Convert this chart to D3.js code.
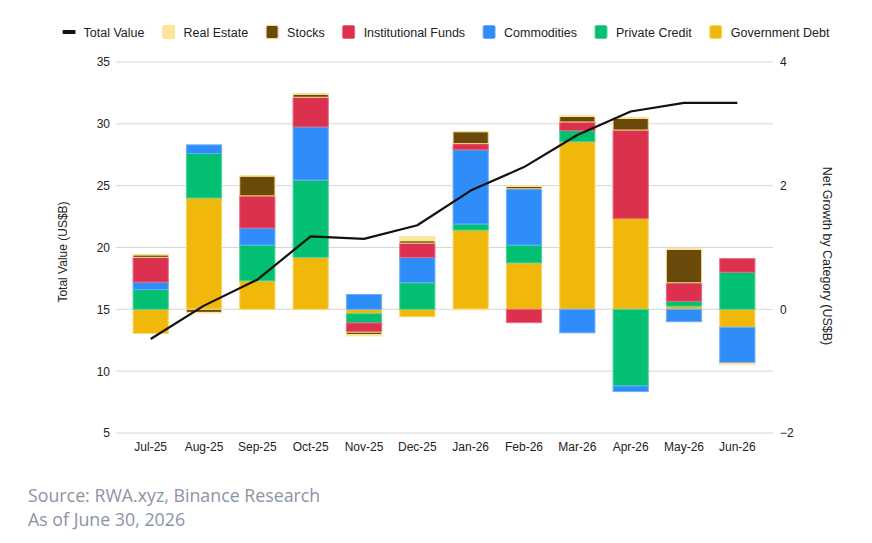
<!DOCTYPE html>
<html>
<head>
<meta charset="utf-8">
<script src="https://cdn.jsdelivr.net/npm/d3@7"></script>
<style>
  body { margin: 0; background: #fff; }
  text { font-family: "Liberation Sans", Arial, sans-serif; }
</style>
</head>
<body>
<div id="chart"></div>
<script>
// months on the x axis
var months = ["Jul-25","Aug-25","Sep-25","Oct-25","Nov-25","Dec-25","Jan-26","Feb-26","Mar-26","Apr-26","May-26","Jun-26"];

// total value, left axis (US$B)
var totalValue = [12.6, 15.3, 17.4, 20.9, 20.7, 21.8, 24.6, 26.5, 29.1, 31.0, 31.7, 31.7];

// net growth by category, right axis (US$B)
var govDebt       = [-0.39, 1.80, 0.46, 0.84, -0.07, -0.12, 1.28, 0.75, 2.71, 1.47, 0.05, -0.29];
var privateCredit = [0.32, 0.72, 0.58, 1.25, -0.15, 0.43, 0.10, 0.29, 0.18, -1.24, 0.08, 0.60];
var commodities   = [0.12, 0.14, 0.275, 0.86, 0.24, 0.41, 1.20, 0.91, -0.38, -0.09, -0.20, -0.58];
var instFunds     = [0.40, 0, 0.52, 0.48, -0.15, 0.23, 0.10, -0.215, 0.14, 1.43, 0.30, 0.22];
var stocks        = [0.04, -0.05, 0.32, 0.05, -0.04, 0.04, 0.19, 0.04, 0.09, 0.19, 0.54, 0];
var realEstate    = [0.01, -0.01, 0.01, 0.01, -0.02, 0.065, -0.01, 0.01, 0.01, 0.01, 0.01, -0.02];

var leftTicks = [5, 10, 15, 20, 25, 30, 35];
var rightTicks = [-2, 0, 2, 4];

var keys = ["Government Debt", "Private Credit", "Commodities", "Institutional Funds", "Stocks", "Real Estate"];
var series = [govDebt, privateCredit, commodities, instFunds, stocks, realEstate];
var colors = ["#f1b80c", "#02bf72", "#2f8dfa", "#db304e", "#6a4a0b", "#fbe59d"];
var strokes = ["#f9d86a", "#4fd69c", "#6aaefc", "#e8687d", "#f4d98a", "#fbe59d"];

var legendKeys = ["Total Value", "Real Estate", "Stocks", "Institutional Funds", "Commodities", "Private Credit", "Government Debt"];

var width = 872, height = 543;

var svg = d3.select("#chart")
  .append("svg")
    .attr("width", width)
    .attr("height", height);

var rows = months.map(function(m, i) {
  var r = {month: m};
  keys.forEach(function(k, j) { r[k] = series[j][i]; });
  return r;
});

var x = d3.scaleBand()
  .domain(months)
  .range([124, 764])
  .paddingInner(0.34)
  .paddingOuter(0.17);

var yLeft = d3.scaleLinear()
  .domain([5, 35])
  .range([433, 62]);

var yRight = d3.scaleLinear()
  .domain([-2, 4])
  .range([433, 62]);

// gridlines
svg.append("g")
  .selectAll("line")
  .data(leftTicks)
  .enter().append("line")
    .attr("x1", 116)
    .attr("x2", 773)
    .attr("y1", function(d) { return yLeft(d) })
    .attr("y2", function(d) { return yLeft(d) })
    .attr("stroke", "#d6d6d6")
    .attr("stroke-width", 1);

// left axis
var axL = svg.append("g")
  .attr("transform", "translate(116,0)")
  .call(d3.axisLeft(yLeft).tickValues(leftTicks).tickSize(0).tickPadding(6));
axL.select(".domain").remove();
axL.selectAll("text").attr("font-size", 12).attr("fill", "#222");

// right axis
var axR = svg.append("g")
  .attr("transform", "translate(773,0)")
  .call(d3.axisRight(yRight).tickValues(rightTicks).tickSize(0).tickPadding(7).tickFormat(d3.format("d")));
axR.select(".domain").remove();
axR.selectAll("text").attr("font-size", 12).attr("fill", "#222");

// x axis
var axX = svg.append("g")
  .attr("transform", "translate(0,433)")
  .call(d3.axisBottom(x).tickSize(0).tickPadding(9));
axX.select(".domain").remove();
axX.selectAll("text").attr("font-size", 12).attr("fill", "#222");

// axis titles
svg.append("text")
  .attr("transform", "translate(67,252) rotate(-90)")
  .attr("text-anchor", "middle")
  .attr("font-size", 12)
  .attr("fill", "#222")
  .text("Total Value (US$B)");

svg.append("text")
  .attr("transform", "translate(823,256) rotate(90)")
  .attr("text-anchor", "middle")
  .attr("font-size", 12.5)
  .attr("fill", "#222")
  .text("Net Growth by Category (US$B)");

// stacked bars
var stacked = d3.stack()
  .keys(keys)
  .offset(d3.stackOffsetDiverging)(rows);

svg.append("g")
  .selectAll("g")
  .data(stacked)
  .enter().append("g")
    .attr("fill", function(d, i) { return colors[i] })
    .attr("stroke", function(d, i) { return strokes[i] })
    .attr("stroke-width", 1)
  .selectAll("rect")
  .data(function(d) { return d.filter(function(p) { return p[1] !== p[0] }) })
  .enter().append("rect")
    .attr("x", function(d) { return x(d.data.month) })
    .attr("width", x.bandwidth())
    .attr("y", function(d) { return yRight(Math.max(d[0], d[1])) })
    .attr("height", function(d) { return Math.abs(yRight(d[0]) - yRight(d[1])) });

// total value line
svg.append("path")
  .datum(totalValue)
  .attr("fill", "none")
  .attr("stroke", "#111")
  .attr("stroke-width", 2.2)
  .attr("stroke-linejoin", "round")
  .attr("d", d3.line()
    .x(function(d, i) { return x(months[i]) + x.bandwidth() / 2 })
    .y(function(d) { return yLeft(d) })
  );

// legend
var legend = svg.append("g");
var lx = 0;
legendKeys.forEach(function(k, i) {
  var g = legend.append("g").attr("transform", "translate(" + lx + ",0)");
  if (i === 0) {
    g.append("rect")
      .attr("x", 0).attr("y", 30).attr("width", 13).attr("height", 4)
      .attr("rx", 1)
      .attr("fill", "#111");
  } else {
    var j = keys.indexOf(k);
    g.append("rect")
      .attr("x", 0).attr("y", 25.5).attr("width", 12).attr("height", 13)
      .attr("rx", 1.5)
      .attr("fill", colors[j])
      .attr("stroke", strokes[j])
      .attr("stroke-width", 1);
  }
  var t = g.append("text")
    .attr("x", 21)
    .attr("y", 36.5)
    .attr("font-size", 12.5)
    .attr("fill", "#222")
    .text(k);
  lx += 21 + t.node().getComputedTextLength() + 18;
});
var legendW = lx - 18;
legend.attr("transform", "translate(" + (446 - legendW / 2) + ",0)");

// source note
svg.append("text")
  .attr("x", 28)
  .attr("y", 502)
  .attr("font-size", 17.8)
  .attr("fill", "#8b94a3")
  .style("font-family", "'Open Sans', sans-serif")
  .text("Source: RWA.xyz, Binance Research");

svg.append("text")
  .attr("x", 28)
  .attr("y", 526)
  .attr("font-size", 17.8)
  .attr("fill", "#8b94a3")
  .style("font-family", "'Open Sans', sans-serif")
  .text("As of June 30, 2026");
</script>
</body>
</html>
